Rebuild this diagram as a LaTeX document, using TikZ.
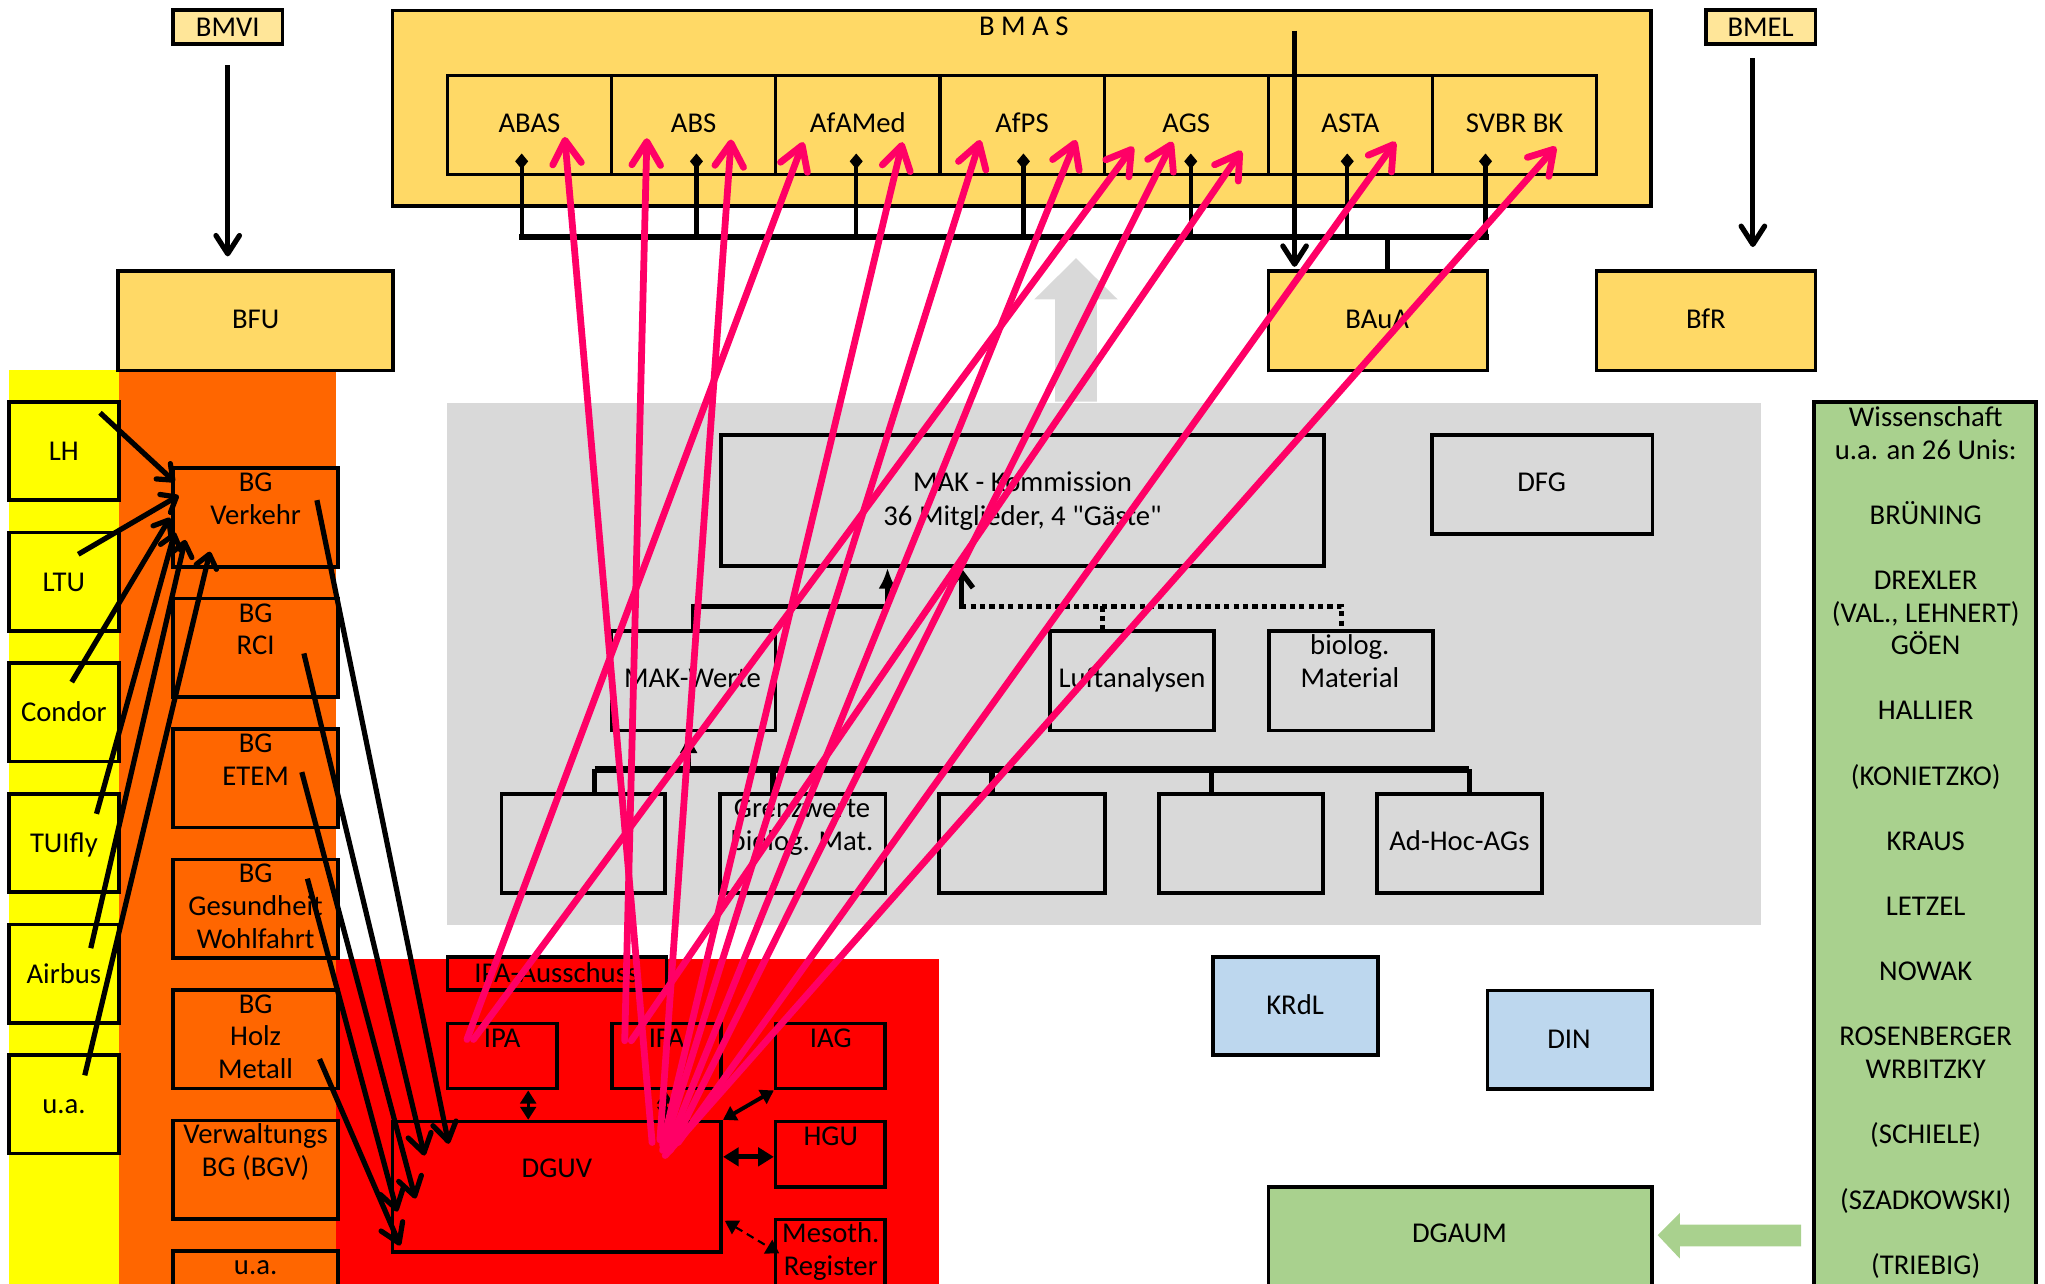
\documentclass[tikz,border=0pt]{standalone}
\usepackage{fontspec}
\setmainfont{Carlito}[Ligatures=TeXOff]
\usetikzlibrary{arrows.meta,fit}
\definecolor{gold}{HTML}{FFD966}
\definecolor{lgold}{HTML}{FFE699}
\definecolor{yel}{HTML}{FFFF00}
\definecolor{ora}{HTML}{FF6600}
\definecolor{redd}{HTML}{FF0000}
\definecolor{gry}{HTML}{D9D9D9}
\definecolor{lblue}{HTML}{BDD7EE}
\definecolor{grn}{HTML}{A9D18E}
\definecolor{pnk}{HTML}{FF0066}
\tikzset{
  box/.style={draw=black, line width=1.4pt, inner sep=0pt},
  cbox/.style={draw=black, line width=1.2pt, inner sep=0pt},
  t/.style={inner sep=0pt, text height=7pt, text depth=0pt},
  barrow/.style={draw=black, line width=2pt, -{Straight Barb[length=7pt,width=9pt,round]}},
  sarrow/.style={draw=black, line width=2pt, -{Straight Barb[length=5pt,width=8pt,round]}},
  garrow/.style={draw=black, line width=2pt, -{Straight Barb[length=7pt,width=9pt,round]}},
  pk/.style={draw=pnk, line width=2.6pt, line cap=round, -{Straight Barb[length=9pt,width=11pt,round]}},
  dline/.style={draw=black, line width=1.6pt, -{Diamond[length=6pt,width=5pt]}},
  tree/.style={draw=black, line width=2pt},
  dots/.style={draw=black, line width=2pt, dash pattern=on 2pt off 1.6pt},
  dbl/.style={draw=black, line width=1.2pt, {Triangle[length=5pt,width=6pt]}-{Triangle[length=5pt,width=6pt]}},
}
\begin{document}
\begin{tikzpicture}[x=0.5pt,y=-0.5pt,font=\fontsize{11}{12.5}\selectfont]
\useasboundingbox (0,0) rectangle (1568,984);
% background regions
\fill[yel] (7,284) rectangle (91,990);
\fill[ora] (91,284) rectangle (258,990);
\fill[redd] (258,735) rectangle (720,990);
\fill[gry] (343,309) rectangle (1350,709);
% block arrows
\fill[gry] (809,308) -- (809,229.6) -- (793,229.6) -- (825,198) -- (857,229.6) -- (841,229.6) -- (841,308) -- cycle;
\fill[grn] (1381,939) -- (1288,939) -- (1288,930) -- (1271,947) -- (1288,965) -- (1288,955.6) -- (1381,955.6) -- cycle;

% ministries
\node[box, fill=lgold, fit={(132.5,7.7) (216.7,33.7)}] (bmvi) {};
\node[box, fill=lgold, fit={(1308,7.7) (1392,33.7)}] (bmel) {};
\node[box, fill=gold, fit={(301,8) (1266,158)}] (bmas) {};
\foreach \i/\nm in {0/abas,1/abs,2/afamed,3/afps,4/ags,5/asta,6/svbr}
  \node[cbox, fill=gold, fit={({343+125.9*\i},58) ({343+125.9*(\i+1)},133.5)}] (\nm) {};
\node[box, fill=gold, fit={(90.7,208) (301.3,284)}] (bfu) {};
\node[box, fill=gold, fit={(972.6,208) (1140.5,284)}] (baua) {};
\node[box, fill=gold, fit={(1224,208) (1392,284)}] (bfr) {};

% grey area boxes
\node[box, fit={(553,333.6) (1015,434)}] (mak) {};
\node[box, fit={(1098,333.6) (1267,409.5)}] (dfg) {};
\node[box, fit={(468.8,484) (594.6,560)}] (mw) {};
\node[box, fit={(805,484) (930.6,560)}] (luft) {};
\node[box, fit={(973,484) (1098.5,560)}] (biol) {};
\node[box, fit={(384.4,609) (510,684.7)}] (l1) {};
\node[box, fit={(552,609) (679,684.7)}] (l2) {};
\node[box, fit={(720,609) (847,684.7)}] (l3) {};
\node[box, fit={(888.6,609) (1014.5,684.7)}] (l4) {};
\node[box, fit={(1056,609) (1182.5,684.7)}] (l5) {};

% right side
\node[box, fill=lblue, fit={(930,734) (1056.5,809)}] (krdl) {};
\node[box, fill=lblue, fit={(1140.5,759.5) (1266.8,835)}] (din) {};
\node[box, fill=grn, fit={(972.6,910) (1266.8,1000)}] (dgaum) {};
\node[box, fill=grn, fit={(1391,308) (1561,1000)}] (wiss) {};

% yellow boxes
\foreach \i/\nm in {0/lh,1/ltu,2/condor,3/tuifly,4/airbus,5/yua}
  \node[box, fill=yel, fit={(7,{308+100.2*\i}) (91.3,{383.5+100.2*\i})}] (\nm) {};
% orange boxes
\foreach \i/\nm in {0/bgv,1/bgr,2/bge,3/bgg,4/bgh,5/bgvw,6/bgua}
  \node[box, fill=ora, fit={(132.5,{359+100*\i}) (259,{434.5+100*\i})}] (\nm) {};

% red boxes
\node[box, fill=redd, fit={(343,734) (511,759)}] (ipaa) {};
\node[box, fill=redd, fit={(343,784.8) (427,834.7)}] (ipa) {};
\node[box, fill=redd, fit={(469,784.8) (553,834.7)}] (ifa) {};
\node[box, fill=redd, fit={(594.7,784.8) (678.8,834.7)}] (iag) {};
\node[box, fill=redd, fit={(594.7,860) (678.8,910)}] (hgu) {};
\node[box, fill=redd, fit={(594.7,935) (678.8,1000)}] (meso) {};
\node[box, fill=redd, fit={(301,860) (553,960)}] (dguv) {};

% texts
\node[t] at (174.6,20.7) {BMVI};
\node[t] at (1350,20.7) {BMEL};
\node[t] at (785,20) {B M A S};
\foreach \i/\lb in {0/ABAS,1/ABS,2/AfAMed,3/AfPS,4/AGS,5/ASTA,6/SVBR BK}
  \node[t] at ({343+125.9*(\i+0.5)},94.5) {\lb};
\node[t] at (196,245) {BFU};
\node[t] at (1056,245) {BAuA};
\node[t] at (1308,245) {BfR};
\node[t] at (1182,370) {DFG};
\node[t] at (784,370) {MAK - Kommission};
\node[t] at (784,396) {36 Mitglieder, 4 "Gäste"};
\node[t] at (531,520) {MAK-Werte};
\node[t] at (868,520) {Luftanalysen};
\node[t] at (1035,495) {biolog.};
\node[t] at (1035,520) {Material};
\node[t] at (615,620) {Grenzwerte};
\node[t] at (615,645) {biolog. Mat.};
\node[t] at (1119,645) {Ad-Hoc-AGs};
\node[t] at (993,771) {KRdL};
\node[t] at (1203,797) {DIN};
\node[t] at (1119,946) {DGAUM};
\foreach \yy/\lb in {320/Wissenschaft, 345/{u.a. an 26 Unis:}, 395/BRÜNING, 445/DREXLER,
  470/{(VAL., LEHNERT)}, 495/GÖEN, 545/HALLIER, 595/(KONIETZKO), 645/KRAUS, 695/LETZEL,
  745/NOWAK, 795/ROSENBERGER, 820/WRBITZKY, 870/(SCHIELE), 920/(SZADKOWSKI), 970/(TRIEBIG)}
  \node[t] at (1476.5,\yy) {\lb};
\foreach \i/\lb in {0/LH,1/LTU,2/Condor,3/TUIfly,4/Airbus,5/u.a.}
  \node[t] at (49,{346+100.2*\i}) {\lb};
\foreach \yy/\lb in {370/BG,395/Verkehr,470/BG,495/RCI,570/BG,595/ETEM,670/BG,695/Gesundheit,720/Wohlfahrt,
  770/BG,795/Holz,820/Metall,870/Verwaltungs,895/BG (BGV),970/u.a.}
  \node[t] at (196,\yy) {\lb};
\node[t] at (426.5,746.5) {IPA-Ausschuss};
\node[t] at (385,796) {IPA};
\node[t] at (511,796) {IFA};
\node[t] at (637,796) {IAG};
\node[t] at (637,871) {HGU};
\node[t] at (637,946) {Mesoth.};
\node[t] at (637,971) {Register};
\node[t] at (427,896) {DGUV};

% ministry arrows
\draw[barrow, shorten <=7.5pt, shorten >=5pt] (bmvi.south) -- (bmvi.south |- bfu.north);
\draw[barrow, shorten <=4.7pt, shorten >=8.6pt] ([xshift=-3pt]bmel.south) -- ([xshift=-3pt]bmel.south |- bfr.north);
\coordinate (bin) at (992.6,23.5);
\draw[barrow, shorten >=1pt] (bin) -- (bin |- baua.north);

% BMAS bus with diamond ends
\foreach \x/\nm in {400/abas, 534/abs, 656.5/afamed, 784.7/afps, 913/ags, 1033/asta, 1139/svbr}{
  \coordinate (bus\nm) at (\x,182);
  \draw[dline] (bus\nm) -- ([yshift=8.5pt]bus\nm |- \nm.south);
}
\draw[tree, line width=2.4pt, line cap=rect] (busabas) -- (bussvbr);
\coordinate (busb) at (1064,182);
\draw[tree] (busb) -- (busb |- baua.north);

% MAK tree
\draw[tree, -{Latex[length=8pt,width=7pt]}] (mw.north) |- (680.5,465) -- (680.5,0 |- mak.south);
\coordinate (dj) at (737,465);
\draw[tree, -{Straight Barb[length=6pt,width=9pt]}] ([yshift=-1pt]dj) -- (dj |- mak.south);
\draw[dots] (dj) -- (1028.6,465) -- (1028.6,0 |- biol.north);
\draw[dots] (845.5,465) -- (845.5,0 |- luft.north);
\draw[tree, line width=2.4pt] (456,590) -- (1126.5,590);
\foreach \x/\nm in {456/l1, 592.7/l2, 760.6/l3, 929/l4, 1126.5/l5}
  \draw[tree] (\x,590) -- (\x,0 |- \nm.north);
\draw[tree, -{Latex[length=8pt,width=7pt]}] (528,590) -- (528,0 |- mw.south);

% yellow -> BG Verkehr
\foreach \nm/\sx/\sy/\tx/\ty in {lh/76.7/316.5/134/369.5, ltu/60/425/137/380, condor/55/523/130.4/397,
  tuifly/74/624/134/408, airbus/69.6/727/142/414, yua/65/824.5/161/423}{
  \coordinate (\nm s) at (\sx,\sy);
  \coordinate (\nm t) at (\tx,\ty);
  \draw[sarrow] (\nm s) -- (\nm t);
}
% BG -> DGUV
\foreach \nm/\sx/\sy/\tx/\ty in {bgv/243/383.5/344/877, bgr/233/501/325.5/886, bge/231.4/592/318.5/919,
  bgg/235.7/673.7/304.5/929, bgh/245/812/306.8/955}{
  \coordinate (\nm s) at (\sx,\sy);
  \coordinate (\nm t) at (\tx,\ty);
  \draw[garrow] (\nm s) -- (\nm t);
}

% DGUV links
\draw[dbl] (405,0 |- ipa.south) -- (405,0 |- dguv.north);
\draw[dbl] (510,0 |- ifa.south) -- (510,0 |- dguv.north);
\draw[dbl, line width=1.5pt] (dguv.north east) -- (iag.south west);
\draw[dbl, line width=1.8pt, {Triangle[length=6pt,width=7pt]}-{Triangle[length=6pt,width=7pt]}] (dguv.east |- 0,887) -- (hgu.west |- 0,887);
\coordinate (ms1) at (555.8,936);
\coordinate (ms2) at (597.5,961);
\draw[dbl, line width=0.8pt, dash pattern=on 3pt off 2pt] (ms1) -- (ms2);

% pink arrows
\foreach \i/\sx/\sy/\tx/\ty in {
 1/500/876/433/105, 2/479/798/496/106, 3/506/874/560.6/107, 4/358/797/616/109, 5/508/878/692/109,
 6/508/882/751.6/107.4, 7/512/880/825/107.4, 8/363/797/869/112.5, 9/514/882/899/108.7, 10/484/798/952/115.6,
 11/520/876/1070/108.7, 12/510/886/1193/112.5}{
  \coordinate (ps\i) at (\sx,\sy);
  \coordinate (pt\i) at (\tx,\ty);
  \draw[pk] (ps\i) -- (pt\i);
}
\end{tikzpicture}
\end{document}
